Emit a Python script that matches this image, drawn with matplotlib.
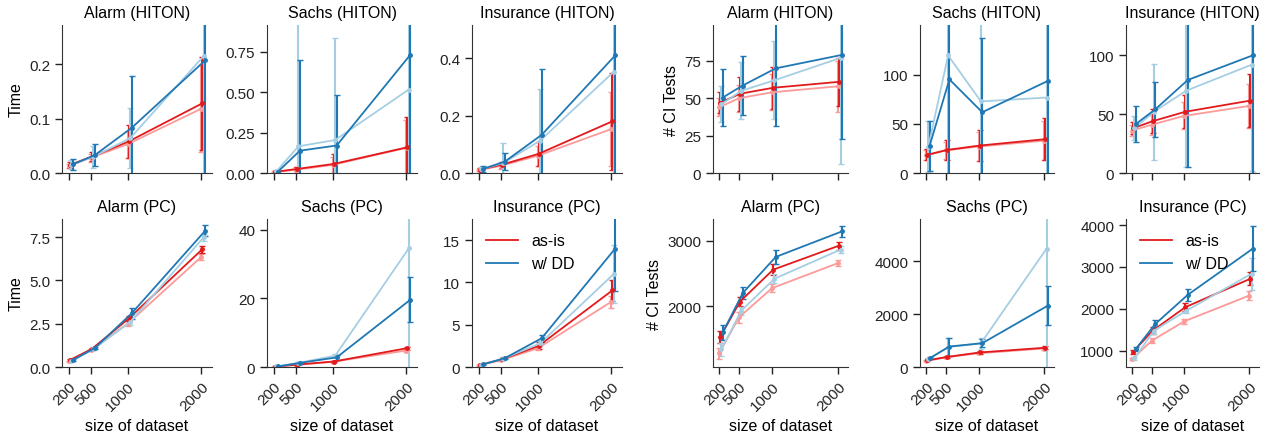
import matplotlib
matplotlib.use("Agg")
import matplotlib.pyplot as plt
from matplotlib.lines import Line2D

plt.rcParams['font.family'] = ['Liberation Sans', 'DejaVu Sans']

sizes = [200, 500, 1000, 2000]
# dodge per series: light red, red (as-is), light blue, blue (w/ DD)
offsets = [0, 15, 35, 55]
colors = ['#fb9a99', '#e31a1c', '#a6cee3', '#1f78b4']

# rows: light red, red, light blue, blue
alarm_hiton_time = [[0.013, 0.028, 0.053, 0.118], [0.015, 0.030, 0.058, 0.128],
                    [0.015, 0.030, 0.064, 0.215], [0.016, 0.033, 0.083, 0.207]]
alarm_hiton_time_err = [[0.004, 0.007, 0.025, 0.08], [0.005, 0.008, 0.03, 0.085],
                        [0.008, 0.02, 0.055, 0.25], [0.01, 0.02, 0.095, 0.3]]

sachs_hiton_time = [[0.005, 0.02, 0.05, 0.155], [0.007, 0.025, 0.056, 0.159],
                    [0.01, 0.165, 0.204, 0.516], [0.008, 0.138, 0.17, 0.73]]
sachs_hiton_time_err = [[0.004, 0.02, 0.05, 0.175], [0.005, 0.012, 0.06, 0.185],
                        [0.008, 0.8, 0.63, 1.0], [0.006, 0.56, 0.315, 1.0]]

ins_hiton_time = [[0.010, 0.025, 0.060, 0.153], [0.012, 0.029, 0.067, 0.180],
                  [0.013, 0.035, 0.113, 0.353], [0.014, 0.040, 0.133, 0.410]]
ins_hiton_time_err = [[0.004, 0.01, 0.035, 0.13], [0.005, 0.01, 0.042, 0.17],
                      [0.008, 0.07, 0.18, 0.4], [0.01, 0.03, 0.23, 0.6]]

alarm_hiton_ci = [[44, 50, 54, 58], [47, 53, 57, 61],
                  [46, 55, 62, 77], [50.5, 58.5, 70, 79]]
alarm_hiton_ci_err = [[6, 9, 12, 17], [7, 11.5, 14, 16],
                      [12, 19, 26, 71], [19, 19.5, 38.5, 56]]

sachs_hiton_ci = [[18, 23, 27, 33], [18.5, 23.5, 28, 34.5],
                  [27, 120, 73, 77], [28, 95.5, 62, 94]]
sachs_hiton_ci_err = [[5, 9, 15, 20], [5.5, 10, 16, 21.5],
                      [26, 200, 150, 150], [25.5, 150, 76, 150]]

ins_hiton_ci = [[36, 41, 48.5, 57], [38, 44, 52, 61.5],
                [38, 52, 70, 92], [41.5, 54, 79, 100]]
ins_hiton_ci_err = [[4.5, 8.5, 11.5, 19], [5, 10, 14, 22.5],
                    [10, 41, 65, 90], [15, 23, 74, 100]]

alarm_pc_time = [[0.33, 1.0, 2.5, 6.35], [0.40, 1.05, 2.8, 6.8],
                 [0.35, 1.02, 2.6, 7.5], [0.40, 1.10, 3.1, 7.87]]
alarm_pc_time_err = [[0.03, 0.05, 0.15, 0.15], [0.04, 0.06, 0.15, 0.2],
                     [0.03, 0.05, 0.2, 0.2], [0.04, 0.08, 0.3, 0.33]]

sachs_pc_time = [[0.1, 0.6, 1.5, 4.8], [0.12, 0.7, 1.6, 5.5],
                 [0.15, 1.2, 3.3, 34.6], [0.15, 1.2, 2.8, 19.6]]
sachs_pc_time_err = [[0.02, 0.1, 0.2, 0.4], [0.02, 0.1, 0.2, 0.4],
                     [0.03, 0.3, 0.5, 50], [0.03, 0.3, 0.8, 6.6]]

ins_pc_time = [[0.2, 0.8, 2.2, 7.7], [0.25, 0.9, 2.5, 9.05],
               [0.25, 1.0, 2.8, 11.0], [0.3, 1.05, 3.4, 14.0]]
ins_pc_time_err = [[0.03, 0.08, 0.2, 0.7], [0.03, 0.1, 0.4, 1.2],
                   [0.03, 0.15, 0.3, 3.4], [0.04, 0.15, 0.4, 5.0]]

alarm_pc_ci = [[1286, 1832, 2276, 2658], [1531, 2071, 2556, 2923],
               [1347, 1934, 2418, 2862], [1602, 2199, 2750, 3138]]
alarm_pc_ci_err = [[80, 80, 60, 40], [90, 70, 80, 60],
                   [100, 60, 70, 50], [110, 90, 110, 85]]

sachs_pc_ci = [[230, 360, 520, 700], [250, 380, 550, 730],
               [300, 750, 900, 4480], [330, 775, 900, 2324]]
sachs_pc_ci_err = [[20, 30, 40, 50], [20, 30, 40, 50],
                   [40, 340, 200, 5000], [40, 340, 150, 730]]

ins_pc_ci = [[800, 1240, 1704, 2320], [976, 1480, 2040, 2720],
             [820, 1480, 1960, 2840], [1040, 1640, 2336, 3440]]
ins_pc_ci_err = [[20, 60, 60, 100], [50, 80, 100, 150],
                 [40, 70, 60, 380], [50, 90, 150, 540]]

# (title, means, errs, ylim, yticks, col, row)
panels = [
    ("Alarm (HITON)", alarm_hiton_time, alarm_hiton_time_err, (0, 0.272), [0, 0.1, 0.2], 0, 0),
    ("Sachs (HITON)", sachs_hiton_time, sachs_hiton_time_err, (0, 0.915), [0, 0.25, 0.5, 0.75], 1, 0),
    ("Insurance (HITON)", ins_hiton_time, ins_hiton_time_err, (0, 0.516), [0, 0.2, 0.4], 2, 0),
    ("Alarm (HITON)", alarm_hiton_ci, alarm_hiton_ci_err, (0, 99), [0, 25, 50, 75], 3, 0),
    ("Sachs (HITON)", sachs_hiton_ci, sachs_hiton_ci_err, (0, 151), [0, 50, 100], 4, 0),
    ("Insurance (HITON)", ins_hiton_ci, ins_hiton_ci_err, (0, 125.7), [0, 50, 100], 5, 0),
    ("Alarm (PC)", alarm_pc_time, alarm_pc_time_err, (0, 8.55), [0, 2.5, 5, 7.5], 0, 1),
    ("Sachs (PC)", sachs_pc_time, sachs_pc_time_err, (0, 43.2), [0, 20, 40], 1, 1),
    ("Insurance (PC)", ins_pc_time, ins_pc_time_err, (0, 17.5), [0, 5, 10, 15], 2, 1),
    ("Alarm (PC)", alarm_pc_ci, alarm_pc_ci_err, (1077, 3327), [2000, 3000], 3, 1),
    ("Sachs (PC)", sachs_pc_ci, sachs_pc_ci_err, (0, 5600), [0, 2000, 4000], 4, 1),
    ("Insurance (PC)", ins_pc_ci, ins_pc_ci_err, (616, 4144), [1000, 2000, 3000, 4000], 5, 1),
]

W, H = 1270, 439
col_px = [(62, 212), (267, 417), (472, 622), (713, 848), (920, 1054), (1126, 1259)]
row_px = [(26, 174), (220, 368)]

fig = plt.figure(figsize=(W / 100, H / 100), dpi=100)

for title, means, errs, ylim, yticks, c, r in panels:
    x0, x1 = col_px[c]
    y0, y1 = row_px[r]
    ax = fig.add_axes([x0 / W, 1 - y1 / H, (x1 - x0) / W, (y1 - y0) / H])
    for k in range(4):
        xs = [s + offsets[k] for s in sizes]
        ax.errorbar(xs, means[k], yerr=errs[k], color=colors[k], lw=1.3,
                    marker='o', ms=2.5, capsize=2, elinewidth=1.5, capthick=1)
    ax.set_ylim(*ylim)
    ax.set_yticks(yticks)
    ax.set_xticks(sizes)
    ax.set_title(title, fontsize=11.5)
    ax.tick_params(labelsize=11, length=5, width=1, colors='#222222')
    for s in ['top', 'right']:
        ax.spines[s].set_visible(False)
    for s in ['left', 'bottom']:
        ax.spines[s].set_color('#333333')
    if r == 0:
        ax.set_xticklabels([])
    else:
        ax.set_xticklabels([str(s) for s in sizes], rotation=45, ha='right',
                           rotation_mode='anchor')
        ax.set_xlabel("size of dataset", fontsize=11.5)
    if c == 0:
        ax.set_ylabel("Time", fontsize=11.5)
    if c == 3:
        ax.set_ylabel("# CI Tests", fontsize=11.5)
    if r == 1 and c in (2, 5):
        handles = [Line2D([], [], color=colors[1], lw=1.3),
                   Line2D([], [], color=colors[3], lw=1.3)]
        ax.legend(handles, ["as-is", "w/ DD"], loc='upper left', frameon=False,
                  fontsize=11.5)

fig.savefig("out.png", dpi=100)
